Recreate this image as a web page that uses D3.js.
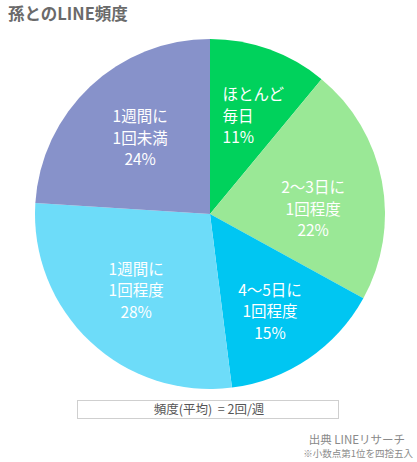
<!DOCTYPE html>
<html lang="ja">
<head>
<meta charset="utf-8">
<script src="https://cdn.jsdelivr.net/npm/d3@7"></script>
<style>
  html, body { margin: 0; padding: 0; background: #fff; }
  svg { display: block; font-family: "Noto Sans CJK JP", "Noto Sans", sans-serif; }
</style>
</head>
<body>
<svg id="chart" width="417" height="462"></svg>
<script>
// Frequency of LINE messages with grandchildren (share of respondents, %)
const categories = [
  ["ほとんど", "毎日"],
  ["2〜3日に", "1回程度"],
  ["4〜5日に", "1回程度"],
  ["1週間に", "1回程度"],
  ["1週間に", "1回未満"]
];
const shares = [11, 22, 15, 28, 24];
const sliceColors = ["#00d25c", "#9ae896", "#00c6f2", "#6ddcf9", "#8792ca"];

const titleText = "孫とのLINE頻度";
const averageText = "頻度(平均)  = 2回/週";
const sourceText = "出典 LINEリサーチ";
const noteText = "※小数点第1位を四捨五入";

// label nudges relative to the slice centroid: [dx, dy, anchor]
const labelNudges = [[-23, 1, "start"], [0, 15, "middle"], [1, 11, "middle"], [-2, 0, "middle"], [2, 1, "middle"]];

const svg = d3.select("#chart");
const cx = 210, cy = 214, radius = 175;

svg.append("text")
  .attr("x", 8).attr("y", 20)
  .attr("font-size", 16.5).attr("font-weight", "bold")
  .attr("fill", "#6a6a6a")
  .text(titleText);

const pie = d3.pie().sort(null).value(d => d);
const arcs = pie(shares);
const arc = d3.arc().innerRadius(0).outerRadius(radius);
const labelArc = d3.arc().innerRadius(105).outerRadius(105);

const g = svg.append("g").attr("transform", `translate(${cx},${cy})`);

g.selectAll("path")
  .data(arcs)
  .join("path")
  .attr("d", arc)
  .attr("fill", (d, i) => sliceColors[i]);

const lineGap = 21.5;
g.selectAll("text.lbl")
  .data(arcs)
  .join("text")
  .attr("class", "lbl")
  .attr("fill", "#fff")
  .attr("font-size", 15.5)
  .attr("text-anchor", (d, i) => labelNudges[i][2])
  .each(function(d, i) {
    const [x0, y0] = labelArc.centroid(d);
    const x = x0 + labelNudges[i][0];
    const y = y0 + labelNudges[i][1] + 5.5;
    const lines = [categories[i][0], categories[i][1], d.data + "%"];
    d3.select(this).selectAll("tspan")
      .data(lines)
      .join("tspan")
      .attr("x", x)
      .attr("y", (t, k) => y + (k - 1) * lineGap)
      .text(t => t);
  });

// average frequency box
svg.append("rect")
  .attr("x", 77.5).attr("y", 400.5)
  .attr("width", 261).attr("height", 18)
  .attr("fill", "#fff").attr("stroke", "#cfcfcf");
svg.append("text")
  .attr("x", 209).attr("y", 414)
  .attr("text-anchor", "middle")
  .attr("font-size", 12.5).attr("fill", "#555")
  .attr("xml:space", "preserve")
  .text(averageText);

svg.append("text")
  .attr("x", 405).attr("y", 444)
  .attr("text-anchor", "end")
  .attr("font-size", 11.5).attr("fill", "#8a8a8a")
  .text(sourceText);
svg.append("text")
  .attr("x", 413).attr("y", 457)
  .attr("text-anchor", "end")
  .attr("font-size", 9.5).attr("fill", "#8a8a8a")
  .text(noteText);
</script>
</body>
</html>
